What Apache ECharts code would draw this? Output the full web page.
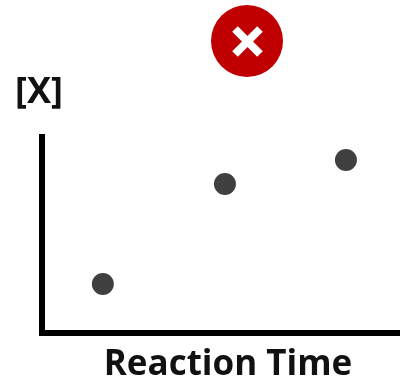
<!DOCTYPE html>
<html>
<head>
<meta charset="utf-8">
<style>
    html, body { margin: 0; padding: 0; background: #fff; }
    #chart { width: 400px; height: 385px; }
</style>
<script src="https://cdn.jsdelivr.net/npm/echarts@6/dist/echarts.min.js"></script>
</head>
<body>
<div id="chart"></div>
<script>
// values are on an arbitrary 0-100 scale, the axes have no ticks
var reactionTime = [17, 51.1, 84.9];
var concentration = [25, 76, 88.3];
var xLabel = 'Reaction Time';
var yLabel = '[X]';

var chart = echarts.init(document.getElementById('chart'));

chart.setOption({
    animation: false,
    grid: { left: 42, right: 0, top: 137, bottom: 52, outerBoundsMode: 'none' },
    xAxis: {
        type: 'value',
        min: 0,
        max: 100,
        name: xLabel,
        nameLocation: 'middle',
        nameGap: 15,
        nameTextStyle: { fontFamily: 'Open Sans', fontWeight: 'bold', fontSize: 35, color: '#111', padding: [0, 0, 0, 14] },
        axisLine: { show: true, lineStyle: { color: '#000', width: 6, cap: 'square' } },
        axisTick: { show: false },
        axisLabel: { show: false },
        splitLine: { show: false }
    },
    yAxis: {
        type: 'value',
        min: 0,
        max: 100,
        name: yLabel,
        nameLocation: 'end',
        nameRotate: 0,
        nameGap: 26,
        nameTextStyle: { fontFamily: 'Open Sans', fontWeight: 'bold', fontSize: 36, color: '#111', align: 'center', padding: [0, 6, 0, 0] },
        axisLine: { show: true, lineStyle: { color: '#000', width: 6, cap: 'square' } },
        axisTick: { show: false },
        axisLabel: { show: false },
        splitLine: { show: false }
    },
    series: [{
        type: 'scatter',
        data: reactionTime.map(function (x, i) { return [x, concentration[i]]; }),
        symbolSize: 22,
        itemStyle: { color: '#404040', opacity: 1 }
    }],
    // red "wrong" badge above the plot
    graphic: [{
        type: 'group',
        left: 211,
        top: 5,
        children: [{
            type: 'circle',
            shape: { cx: 36, cy: 36, r: 36 },
            style: { fill: '#c00000' }
        }, {
            type: 'line',
            shape: { x1: 24, y1: 24, x2: 49, y2: 49 },
            style: { stroke: '#fff', lineWidth: 8 }
        }, {
            type: 'line',
            shape: { x1: 49, y1: 24, x2: 24, y2: 49 },
            style: { stroke: '#fff', lineWidth: 8 }
        }]
    }]
});
</script>
</body>
</html>
